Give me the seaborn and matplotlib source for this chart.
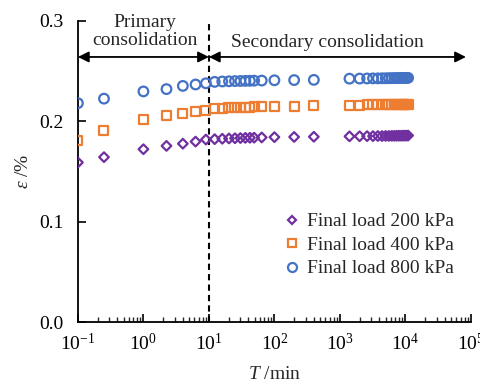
import numpy as np
import pandas as pd
import matplotlib
matplotlib.use("Agg")
import matplotlib.pyplot as plt
import seaborn as sns
from matplotlib.ticker import LogLocator, FixedLocator, FormatStrFormatter, NullFormatter, LogFormatterSciNotation
from matplotlib.lines import Line2D

# ---------------- data ----------------
time_min = [0.1, 0.25, 1, 2.25, 4, 6.25, 9,
            12.25, 16, 20.25, 25, 30.25, 36, 42.25, 49, 64,
            100, 200, 400,
            1400, 2000, 2600, 3200, 3800, 4400, 5000, 5600, 6200,
            6800, 7400, 8000, 8600, 9200, 9800, 10400, 11000]

strain_200 = [0.1590, 0.1643, 0.1722, 0.1755, 0.1777, 0.1798, 0.1818,
              0.1822, 0.1826, 0.1829, 0.1831, 0.1833, 0.1835, 0.1836, 0.1837, 0.1839,
              0.1842, 0.1844, 0.1846,
              0.1850, 0.1851, 0.1852, 0.1852, 0.1853, 0.1853, 0.1854, 0.1854, 0.1855,
              0.1855, 0.1856, 0.1856, 0.1856, 0.1857, 0.1857, 0.1857, 0.1858]

strain_400 = [0.1805, 0.1913, 0.2015, 0.2056, 0.2075, 0.2100, 0.2108,
              0.2128, 0.2132, 0.2135, 0.2138, 0.2140, 0.2141, 0.2142, 0.2143, 0.2145,
              0.2149, 0.2151, 0.2153,
              0.2160, 0.2161, 0.2162, 0.2163, 0.2164, 0.2164, 0.2165, 0.2165, 0.2166,
              0.2166, 0.2167, 0.2167, 0.2168, 0.2168, 0.2169, 0.2169, 0.2170]

strain_800 = [0.2180, 0.2225, 0.2297, 0.2320, 0.2352, 0.2366, 0.2378,
              0.2392, 0.2396, 0.2398, 0.2400, 0.2401, 0.2402, 0.2403, 0.2404, 0.2405,
              0.2408, 0.2410, 0.2412,
              0.2424, 0.2425, 0.2426, 0.2427, 0.2427, 0.2428, 0.2428, 0.2429, 0.2429,
              0.2430, 0.2430, 0.2430, 0.2431, 0.2431, 0.2431, 0.2432, 0.2432]

series_labels = ["Final load 200 kPa", "Final load 400 kPa", "Final load 800 kPa"]
series_colors = ["#7030A0", "#ED7D31", "#4472C4"]
series_markers = ["D", "s", "o"]
series_sizes = [24, 42, 48]

x_ticks = [0.1, 1, 10, 100, 1000, 10000, 100000]
y_ticks = [0.0, 0.1, 0.2, 0.3]
boundary_time = 10
arrow_y = 0.264

# ---------------- style ----------------
sns.set_style("ticks")
plt.rcParams["font.family"] = ["Liberation Serif", "DejaVu Serif"]
plt.rcParams["mathtext.fontset"] = "custom"
plt.rcParams["mathtext.rm"] = "Liberation Serif"
plt.rcParams["mathtext.it"] = "Liberation Serif:italic"
plt.rcParams["mathtext.bf"] = "Liberation Serif:bold"
plt.rcParams["axes.unicode_minus"] = True

FS = 14

fig = plt.figure(figsize=(4.81, 3.85), dpi=100)
ax = fig.add_axes([0.162, 0.163, 0.817, 0.783])

df = pd.DataFrame({"t": time_min, "s200": strain_200, "s400": strain_400, "s800": strain_800})
for col, lab, c, m, s in zip(["s200", "s400", "s800"], series_labels, series_colors,
                             series_markers, series_sizes):
    sns.scatterplot(data=df, x="t", y=col, ax=ax, marker=m, s=s, color=c,
                    facecolors="none", edgecolor=c, linewidth=1.6, label=lab,
                    legend=False, zorder=3)

ax.set_xscale("log")
ax.set_xlim(0.1, 1e5)
ax.set_ylim(0, 0.3)
ax.xaxis.set_major_locator(FixedLocator(x_ticks))
ax.xaxis.set_major_formatter(LogFormatterSciNotation(base=10))
ax.xaxis.set_minor_locator(LogLocator(base=10, subs=np.arange(2, 10), numticks=20))
ax.xaxis.set_minor_formatter(NullFormatter())
ax.yaxis.set_major_locator(FixedLocator(y_ticks))
ax.yaxis.set_major_formatter(FormatStrFormatter("%.1f"))

for side in ["top", "right"]:
    ax.spines[side].set_visible(False)
for side in ["left", "bottom"]:
    ax.spines[side].set_linewidth(1.3)
    ax.spines[side].set_color("black")

ax.tick_params(axis="both", which="major", direction="in", length=6, width=1.2,
               labelsize=FS, colors="black")
ax.tick_params(axis="x", which="minor", direction="in", length=3.5, width=1.0)
ax.tick_params(axis="x", which="major", pad=8)
ax.tick_params(axis="y", which="major", pad=10.5)

ax.set_xlabel(r"$\mathit{T}$ /min", fontsize=FS, labelpad=8.5)
ax.set_ylabel(r"$\mathit{\varepsilon}$ /%", fontsize=FS, labelpad=5)

# boundary
ax.axvline(boundary_time, color="black", lw=1.5, ls=(0, (3, 2)), zorder=2)

# arrows
arrow_kw = dict(arrowstyle="<|-|>", color="black", lw=1.3, mutation_scale=16,
                shrinkA=0, shrinkB=0)
ax.annotate("", xy=(0.1, arrow_y), xytext=(boundary_time, arrow_y),
            arrowprops=arrow_kw, annotation_clip=False)
ax.annotate("", xy=(boundary_time, arrow_y), xytext=(8.4e4, arrow_y),
            arrowprops=arrow_kw, annotation_clip=False)

ax.text(1.05, 0.2895, "Primary\nconsolidation", ha="center", va="center",
        fontsize=FS, linespacing=1.1, clip_on=False)
ax.text(640, 0.2785, "Secondary consolidation", ha="center", va="center",
        fontsize=FS, clip_on=False)

handles = [Line2D([], [], ls="none", marker=m, markersize=ms, markerfacecolor="none",
                  markeredgecolor=c, markeredgewidth=1.6)
           for m, c, ms in zip(series_markers, series_colors, [4.5, 6, 6.5])]
ax.legend(handles, series_labels, loc="center left", bbox_to_anchor=(0.5, 0.256),
          frameon=False, fontsize=FS, handlelength=1.0, handletextpad=0.3,
          labelspacing=0.3, borderaxespad=0)

fig.savefig("out.png", dpi=100)
